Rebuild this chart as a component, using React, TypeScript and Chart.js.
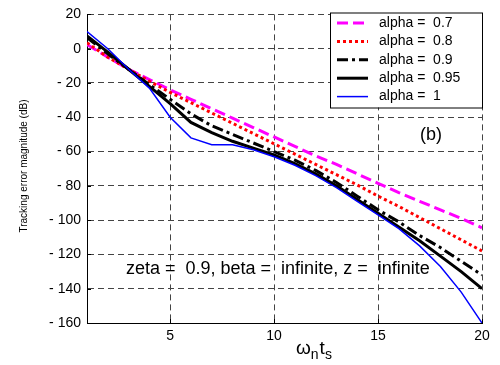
import React, { useEffect, useRef } from "react";
import { Chart, registerables } from "chart.js";

Chart.register(...registerables);

const xValues = [1, 2, 3, 4, 5, 6, 7, 8, 9, 10, 11, 12, 13, 14, 15, 16, 17, 18, 19, 20];
const alpha07 = [2.5, -5, -12, -18, -24, -29.5, -35, -40.5, -46, -51.5, -57, -62.5, -67.5, -73, -78.5, -84, -89, -94, -99, -104.5];
const alpha08 = [3.5, -5, -12, -19, -25.5, -31.5, -37.5, -43.5, -49.5, -55.5, -61.5, -67.5, -73.5, -79.5, -86, -92, -98.5, -105, -111.5, -118];
const alpha09 = [6.5, -3, -12, -21, -29.5, -38, -45, -50, -55, -60, -65, -71, -78, -86, -94, -101, -109, -116, -124, -132];
const alpha095 = [7.5, -2, -12, -22, -32, -43, -49, -54, -58, -62, -67, -73, -80, -88, -96, -104, -112, -121, -130, -140];
const alpha1 = [10, 0, -12, -23, -40, -52, -56, -56, -59, -63, -68, -74, -81, -89, -97, -105, -115, -127, -142, -160];

const seriesLabels = ["alpha =  0.7", "alpha =  0.8", "alpha =  0.9", "alpha =  0.95", "alpha =  1"];
const xTicks = [5, 10, 15, 20];
const annotationText = "zeta =  0.9, beta =  infinite, z =  infinite";
const panelLabel = "(b)";
const yTitle = "Tracking error magnitude (dB)";

const FONT = "'Liberation Sans', Arial, sans-serif";

const styles = [
  { color: "#ff00ff", width: 3, dash: [11, 5] },
  { color: "#ff0000", width: 3, dash: [3, 3] },
  { color: "#000000", width: 3, dash: [11, 4, 3, 4] },
  { color: "#000000", width: 3, dash: [] as number[] },
  { color: "#0000ff", width: 1.5, dash: [] as number[] },
];

const toPoints = (ys: number[]) => ys.map((y, i) => ({ x: xValues[i], y }));

const overlayPlugin = {
  id: "overlay",
  afterDraw(chart: any) {
    const ctx = chart.ctx as CanvasRenderingContext2D;
    const area = chart.chartArea;
    ctx.save();
    // Legend box
    const bx = 330, by = 12.5, bw = 152, bh = 95;
    ctx.fillStyle = "#ffffff";
    ctx.fillRect(bx, by, bw, bh);
    ctx.strokeStyle = "#000000";
    ctx.lineWidth = 1;
    ctx.setLineDash([]);
    ctx.strokeRect(bx + 0.5, by + 0.5, bw, bh);
    ctx.font = `14px ${FONT}`;
    ctx.textBaseline = "middle";
    ctx.textAlign = "left";
    seriesLabels.forEach((lab, i) => {
      const y = by + 10.5 + i * 18.4;
      const st = styles[i];
      ctx.beginPath();
      ctx.strokeStyle = st.color;
      ctx.lineWidth = st.width;
      ctx.setLineDash(st.dash);
      ctx.moveTo(337, y);
      ctx.lineTo(368, y);
      ctx.stroke();
      ctx.setLineDash([]);
      ctx.fillStyle = "#000000";
      ctx.fillText(lab, 379, y);
    });
    // Panel label
    ctx.font = `18px ${FONT}`;
    ctx.textAlign = "center";
    ctx.fillStyle = "#000";
    ctx.fillText(panelLabel, 431, 135);
    // Annotation
    ctx.font = `18px ${FONT}`;
    ctx.textAlign = "left";
    ctx.textBaseline = "alphabetic";
    ctx.fillText(annotationText, 126, 274);
    // X title: omega_n t_s
    ctx.font = `19px ${FONT}`;
    ctx.fillText("ω", 296, 354);
    const wW = ctx.measureText("ω").width;
    ctx.font = `14px ${FONT}`;
    ctx.fillText("n", 296 + wW, 359);
    const nW = ctx.measureText("n").width;
    ctx.font = `19px ${FONT}`;
    ctx.fillText("t", 296 + wW + nW + 1, 354);
    const tW = ctx.measureText("t").width;
    ctx.font = `14px ${FONT}`;
    ctx.fillText("s", 296 + wW + nW + 1 + tW, 359);
    // Y title
    ctx.translate(24, 166);
    ctx.rotate(-Math.PI / 2);
    ctx.font = `10px ${FONT}`;
    ctx.textAlign = "center";
    ctx.textBaseline = "middle";
    ctx.fillText(yTitle, 0, 0);
    ctx.restore();
    // inward tick marks
    ctx.save();
    ctx.strokeStyle = "#000";
    ctx.lineWidth = 1;
    const xs = chart.scales.x;
    const ys = chart.scales.y;
    xTicks.forEach((v) => {
      const px = Math.round(xs.getPixelForValue(v)) + 0.5;
      ctx.beginPath();
      ctx.moveTo(px, area.bottom);
      ctx.lineTo(px, area.bottom - 4);
      ctx.stroke();
    });
    for (let v = -160; v <= 20; v += 20) {
      const py = Math.round(ys.getPixelForValue(v)) + 0.5;
      ctx.beginPath();
      ctx.moveTo(area.left, py);
      ctx.lineTo(area.left + 4, py);
      ctx.stroke();
    }
    ctx.restore();
  },
};

export default function App() {
  const canvasRef = useRef<HTMLCanvasElement | null>(null);

  useEffect(() => {
    document.body.style.margin = "0";
    const canvas = canvasRef.current;
    if (!canvas) return;
    const allSeries = [alpha07, alpha08, alpha09, alpha095, alpha1];
    const chart = new Chart(canvas, {
      type: "line",
      data: {
        datasets: allSeries.map((ys, i) => ({
          label: seriesLabels[i],
          data: toPoints(ys),
          borderColor: styles[i].color,
          borderWidth: styles[i].width,
          borderDash: styles[i].dash,
          pointRadius: 0,
          fill: false,
          tension: 0,
          order: 5 - i,
        })),
      },
      options: {
        animation: false,
        responsive: false,
        devicePixelRatio: 1,
        layout: { padding: { left: 0, right: 18, top: 12, bottom: 0 } },
        plugins: { legend: { display: false }, tooltip: { enabled: false } },
        scales: {
          x: {
            type: "linear",
            min: 1,
            max: 20,
            afterBuildTicks: (s: any) => {
              s.ticks = xTicks.map((v) => ({ value: v }));
            },
            afterFit: (s: any) => {
              s.height = 42;
            },
            ticks: {
              color: "#000",
              font: { family: FONT, size: 14 },
              padding: 5,
              maxRotation: 0,
              autoSkip: false,
            },
            grid: { color: "#444", lineWidth: 1, drawTicks: false },
            border: { display: true, color: "#000", width: 1, dash: [6, 4] },
          },
          y: {
            type: "linear",
            min: -160,
            max: 20,
            ticks: {
              stepSize: 20,
              color: "#000",
              font: { family: FONT, size: 14 },
              padding: 6,
              callback: (v: any) => (Number(v) < 0 ? "- " + Math.abs(Number(v)) : String(v)),
            },
            afterFit: (s: any) => {
              s.width = 87;
            },
            grid: { color: "#444", lineWidth: 1, drawTicks: false },
            border: { display: true, color: "#000", width: 1, dash: [6, 4] },
          },
        },
      },
      plugins: [overlayPlugin],
    });
    return () => chart.destroy();
  }, []);

  return (
    <div style={{ width: 500, height: 365 }}>
      <canvas ref={canvasRef} width={500} height={365} style={{ width: 500, height: 365, display: "block" }} />
    </div>
  );
}
